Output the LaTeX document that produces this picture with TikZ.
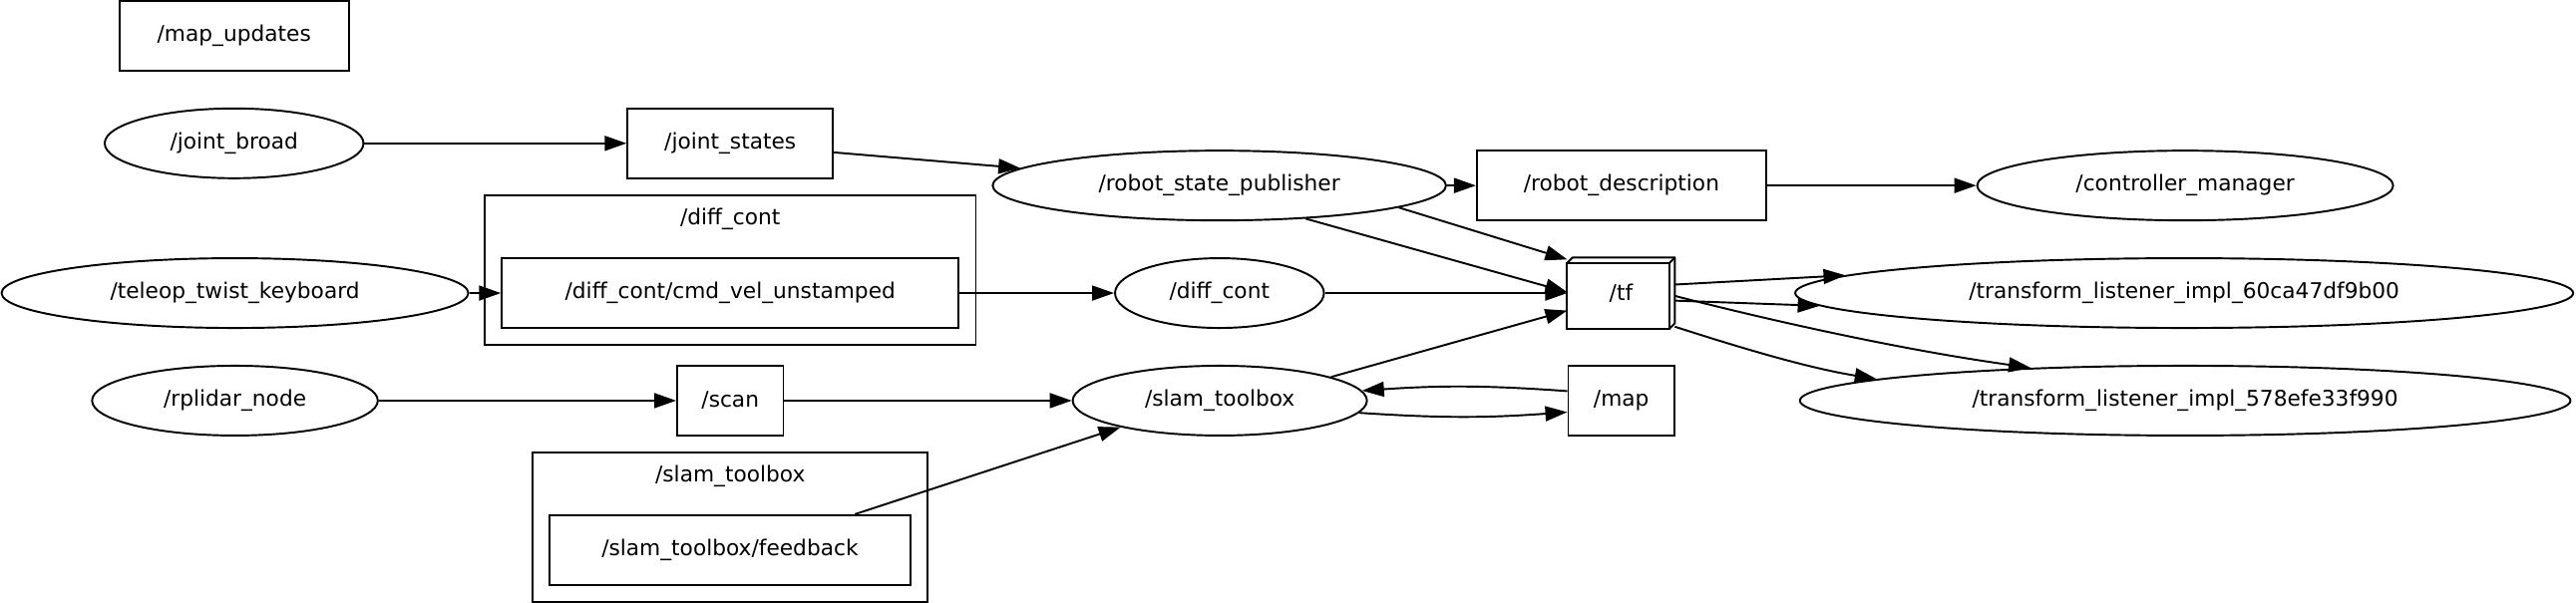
\documentclass[tikz,border=0pt]{standalone}
\usepackage{fontspec}
\setmainfont{DejaVu Sans}
\usepackage{tikz}
\usetikzlibrary{shapes.geometric,arrows.meta}

\begin{document}
\begin{tikzpicture}[
  x=0.03295cm, y=-0.03295cm,
  topic/.style={rectangle,draw,line width=1.1pt,inner sep=0pt,minimum height=1.4cm,font=\fontsize{12.35pt}{14pt}\selectfont},
  rosnode/.style={ellipse,draw,line width=1.1pt,inner sep=0pt,minimum height=1.4cm,font=\fontsize{12.35pt}{14pt}\selectfont},
  group/.style={rectangle,draw,line width=1.1pt,inner sep=0pt,minimum height=3cm},
  grouplabel/.style={inner sep=0pt,font=\fontsize{12.35pt}{14pt}\selectfont},
  edge/.style={-{Triangle[length=12.5pt,width=8.5pt]},line width=1.1pt}
]
\useasboundingbox (0,0) rectangle (1568,367.26);

\node[group,minimum width=9.85cm] (diffcontgroup) at (444.5,164.5) {};
\node[grouplabel] (diffcontlabel) at (444.5,133.6) {/diff\_cont};
\node[group,minimum width=7.91cm] (slamgroup) at (444.45,321.25) {};
\node[grouplabel] (slamlabel) at (444.5,290) {/slam\_toolbox};

\node[topic,minimum width=4.6cm] (mapupdates) at (142.5,22) {/map\_updates};
\node[rosnode,minimum width=5.19cm] (jointbroad) at (142.5,87.3) {/joint\_broad};
\node[topic,minimum width=4.12cm] (jointstates) at (444.5,87.3) {/joint\_states};
\node[rosnode,minimum width=9.36cm] (teleop) at (143,178.5) {/teleop\_twist\_keyboard};
\node[topic,minimum width=9.16cm] (cmdvel) at (444.5,178.5) {/diff\_cont/cmd\_vel\_unstamped};
\node[rosnode,minimum width=5.73cm] (rplidar) at (143,244) {/rplidar\_node};
\node[topic,minimum width=2.13cm] (scan) at (444.5,244) {/scan};
\node[topic,minimum width=7.25cm] (feedback) at (444.3,335) {/slam\_toolbox/feedback};

\node[rosnode,minimum width=9.09cm] (rsp) at (742.2,113) {/robot\_state\_publisher};
\node[topic,minimum width=5.8cm] (robotdesc) at (987,113) {/robot\_description};
\node[rosnode,minimum width=4.19cm] (diffcont) at (742.3,178.5) {/diff\_cont};
\node[rosnode,minimum width=5.9cm] (slam) at (742.5,244) {/slam\_toolbox};
\node[topic,draw=none,minimum width=2.12cm,minimum height=1.39cm] (tf) at (986.7,178.5) {/tf};
\node[topic,minimum width=2.13cm] (map) at (986.9,244) {/map};

\node[rosnode,minimum width=8.34cm] (ctrlmgr) at (1330.1,113) {/controller\_manager};
\node[rosnode,minimum width=15.6cm] (tlsixty) at (1329.5,178.5) {/transform\_listener\_impl\_60ca47df9b00};
\node[rosnode,minimum width=15.45cm] (tlfive) at (1330.1,244) {/transform\_listener\_impl\_578efe33f990};

\draw[line width=1.1pt] (tf.south west) rectangle ([xshift=-0.11cm,yshift=-0.11cm]tf.north east);
\draw[line width=1.1pt,line join=round] ([yshift=-0.11cm]tf.north west) -- ([xshift=0.11cm]tf.north west) -- (tf.north east) -- ([yshift=0.11cm]tf.south east) -- ([xshift=-0.11cm]tf.south east);
\draw[line width=1.1pt] ([xshift=-0.11cm,yshift=-0.11cm]tf.north east) -- (tf.north east);

\draw[edge] (jointbroad) -- (jointstates);
\draw[edge] (jointstates.-5.3) -- (rsp.175.3);
\draw[edge] (rsp) -- (robotdesc);
\draw[edge] (robotdesc) -- (ctrlmgr);
\draw[edge] (teleop) -- (cmdvel);
\draw[edge] (cmdvel) -- (diffcont);
\draw[edge] (diffcont) -- (tf);
\draw[edge] (rsp.-21.9) -- (tf.179);
\draw[edge] (rsp.-7.1) -- (tf.148.4);
\draw[edge] (slam.12.5) -- (tf.198.7);
\draw[edge] (map.170.2) to[bend right=4] (slam.4.9);
\draw[edge] (slam.-5.4) to[bend right=4] (map.192);
\draw[edge] (rplidar) -- (scan);
\draw[edge] (scan) -- (slam);
\draw[edge] (feedback.16.7) -- (slam.195.9);
\draw[edge] (tf.9) -- (tlsixty.177.9);
\draw[edge] (tf.-8.1) -- (tlsixty.182);
\draw[edge] (tf.-3.6) .. controls (1065,192) and (1150,212) .. (tlfive.168.9);
\draw[edge] (tf.-32.1) .. controls (1060,212) and (1100,224) .. (tlfive.176.4);

\end{tikzpicture}
\end{document}
